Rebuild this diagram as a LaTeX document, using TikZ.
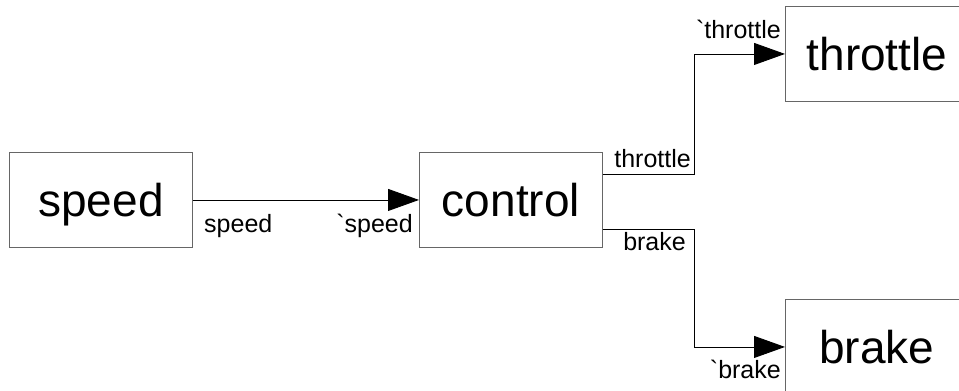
\documentclass[tikz,border=0pt]{standalone}
\usepackage{fontspec}
\setmainfont{Liberation Sans}[Ligatures=TeXOff]
\usetikzlibrary{arrows.meta}
\begin{document}
\begin{tikzpicture}[x=1pt,y=-1pt,
  box/.style={draw=black!60, line width=0.9pt, minimum width=183pt, minimum height=95pt, inner sep=0pt, text height=33pt, text depth=0pt, anchor=north west, font=\fontsize{46}{50}\selectfont},
  lbl/.style={inner sep=0pt, font=\fontsize{25}{28}\selectfont},
  conn/.style={draw=black, line width=0.9pt, -{Triangle[length=31pt,width=22pt]}}]
\useasboundingbox (0,0) rectangle (959,391);
\clip (0,0) rectangle (959,391);
\node[box] (speed) at (9,152) {speed};
\node[box] (control) at (419,152) {control};
\node[box] (throttle) at (785,6) {throttle};
\node[box] (brake) at (785,299) {brake};
\draw[conn] (speed.east) -- (control.west);
\draw[conn] ([yshift=-22pt]control.north east) -- ++(92,0) |- (throttle.west);
\draw[conn] ([yshift=18pt]control.south east) -- ++(92,0) |- (brake.west);
\node[lbl, anchor=base west] (l1) at (204,232) {speed};
\node[lbl, anchor=base east] (l2) at (413,232) {`speed};
\node[lbl, anchor=base east] (l3) at (691,167) {throttle};
\node[lbl, anchor=base east] (l4) at (781,38) {`throttle};
\node[lbl, anchor=base east] (l5) at (686,250) {brake};
\node[lbl, anchor=base east] (l6) at (781,378) {`brake};
\end{tikzpicture}
\end{document}
